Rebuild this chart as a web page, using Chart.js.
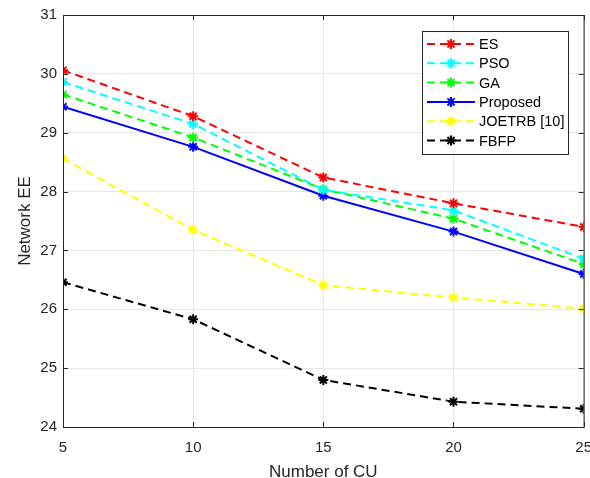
<!DOCTYPE html>
<html>
<head>
<meta charset="utf-8">
<script src="https://cdn.jsdelivr.net/npm/chart.js@4/dist/chart.umd.min.js"></script>
<style>
  html, body { margin: 0; padding: 0; background: #fff; overflow: hidden; }
  #wrap { width: 590px; height: 478px; overflow: hidden; }
</style>
</head>
<body>
<div id="wrap"><canvas id="eeChart" width="604" height="478"></canvas></div>
<script>
// ===== data =====
const cuCounts = [5, 10, 15, 20, 25];
const yTicks = [24, 25, 26, 27, 28, 29, 30, 31];

const esVals       = [30.06, 29.28, 28.24, 27.80, 27.40];
const psoVals      = [29.86, 29.15, 28.03, 27.68, 26.86];
const gaVals       = [29.65, 28.92, 28.04, 27.54, 26.77];
const proposedVals = [29.44, 28.76, 27.93, 27.32, 26.60];
const joetrbVals   = [28.56, 27.35, 26.41, 26.20, 26.01];
const fbfpVals     = [26.46, 25.83, 24.80, 24.43, 24.31];

const FONT = 'Liberation Sans, Arial, Helvetica, sans-serif';
const DASH = [8, 5];

function series(label, vals, color, dashed) {
  return {
    label,
    data: cuCounts.map((x, i) => ({ x, y: vals[i] })),
    borderColor: color,
    backgroundColor: color,
    borderWidth: 2,
    borderDash: dashed ? DASH : [],
    pointStyle: 'star',
    pointRadius: 5,
    pointBorderWidth: 2,
    pointBorderColor: color,
    tension: 0,
    fill: false
  };
}

const datasets = [
  series('ES', esVals, '#ff0000', true),
  series('PSO', psoVals, '#00ffff', true),
  series('GA', gaVals, '#00ff00', true),
  series('Proposed', proposedVals, '#0000ff', false),
  series('JOETRB [10]', joetrbVals, '#ffff00', true),
  series('FBFP', fbfpVals, '#000000', true)
];

// box around plot area + inward ticks on all four sides
const boxPlugin = {
  id: 'box',
  afterDraw(chart) {
    const { ctx, chartArea: a, scales } = chart;
    ctx.save();
    ctx.strokeStyle = '#262626';
    ctx.lineWidth = 1;
    ctx.strokeRect(a.left + 0.5, a.top + 0.5, a.right - a.left, a.bottom - a.top);
    ctx.beginPath();
    cuCounts.forEach(v => {
      const px = Math.round(scales.x.getPixelForValue(v)) + 0.5;
      ctx.moveTo(px, a.bottom); ctx.lineTo(px, a.bottom - 5);
      ctx.moveTo(px, a.top); ctx.lineTo(px, a.top + 5);
    });
    yTicks.forEach(v => {
      const py = Math.round(scales.y.getPixelForValue(v)) + 0.5;
      ctx.moveTo(a.left, py); ctx.lineTo(a.left + 5, py);
      ctx.moveTo(a.right, py); ctx.lineTo(a.right - 5, py);
    });
    ctx.stroke();
    ctx.restore();
  }
};

// MATLAB-like legend box in the top right corner
const legendPlugin = {
  id: 'matLegend',
  afterDraw(chart) {
    const ctx = chart.ctx;
    const x0 = 422, y0 = 31, w = 146, h = 123;
    ctx.save();
    ctx.fillStyle = '#fff';
    ctx.fillRect(x0, y0, w, h);
    ctx.strokeStyle = '#262626';
    ctx.lineWidth = 1;
    ctx.strokeRect(x0 + 0.5, y0 + 0.5, w, h);
    ctx.font = '14.5px ' + FONT;
    ctx.textBaseline = 'middle';
    chart.data.datasets.forEach((ds, i) => {
      const y = y0 + 13 + i * 19.3;
      ctx.strokeStyle = ds.borderColor;
      ctx.fillStyle = ds.borderColor;
      ctx.lineWidth = 2;
      ctx.setLineDash(ds.borderDash);
      ctx.beginPath();
      ctx.moveTo(427, y); ctx.lineTo(475, y);
      ctx.stroke();
      ctx.setLineDash([]);
      Chart.helpers.drawPoint(ctx, { pointStyle: 'star', radius: 5, borderWidth: 2 }, 451, y);
      ctx.fillStyle = '#000';
      ctx.fillText(ds.label, 479, y + 1);
    });
    ctx.restore();
  }
};

new Chart(document.getElementById('eeChart').getContext('2d'), {
  type: 'line',
  data: { datasets },
  options: {
    responsive: false,
    animation: false,
    layout: { padding: { top: 15, right: 19, left: 0, bottom: 0 } },
    plugins: { legend: { display: false }, tooltip: { enabled: false } },
    scales: {
      x: {
        type: 'linear', min: 5, max: 25,
        afterBuildTicks: s => { s.ticks = cuCounts.map(v => ({ value: v })); },
        afterFit: s => { s.height = 51; },
        grid: { color: '#e6e6e6', drawTicks: false },
        border: { display: false },
        ticks: { color: '#262626', font: { family: FONT, size: 15 }, padding: 12, maxRotation: 0 },
        title: { display: true, text: 'Number of CU', color: '#262626', font: { family: FONT, size: 17 }, padding: { top: 6, bottom: -5 } }
      },
      y: {
        min: 24, max: 31,
        afterBuildTicks: s => { s.ticks = yTicks.map(v => ({ value: v })); },
        afterFit: s => { s.width = 63; },
        grid: { color: '#e6e6e6', drawTicks: false },
        border: { display: false },
        ticks: { color: '#262626', font: { family: FONT, size: 15 }, padding: 6 },
        title: { display: true, text: 'Network EE', color: '#262626', font: { family: FONT, size: 17 }, padding: { top: 15, bottom: 0 } }
      }
    }
  },
  plugins: [boxPlugin, legendPlugin]
});
</script>
</body>
</html>
